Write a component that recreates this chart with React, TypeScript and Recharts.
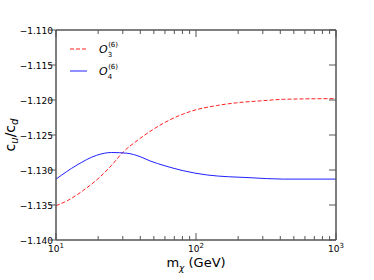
import { ComposedChart, Line, XAxis, YAxis } from 'recharts';

// O_3^(6): red dashed
const o3Mass = [10, 12, 15.7, 20.6, 25, 30.3, 38, 46.9, 60, 81, 100, 140, 195, 300, 421, 1000];
const o3Ratio = [-1.1351, -1.1344, -1.1329, -1.131, -1.1293, -1.1274, -1.1258, -1.1245, -1.1232, -1.122, -1.1214, -1.1208, -1.1204, -1.1201, -1.1199, -1.1198];

// O_4^(6): blue solid
const o4Mass = [10, 14.1, 19.5, 25, 32, 40, 46.9, 60, 81, 119, 243, 421, 1000];
const o4Ratio = [-1.1313, -1.1293, -1.1279, -1.1275, -1.1276, -1.1281, -1.1287, -1.1294, -1.1301, -1.1307, -1.1311, -1.1313, -1.1313];

const majorTicks = [10, 100, 1000];
const xTicks = [10, 20, 30, 40, 50, 60, 70, 80, 90, 100, 200, 300, 400, 500, 600, 700, 800, 900, 1000];
const yTicks = [-1.14, -1.135, -1.13, -1.125, -1.12, -1.115, -1.11];

const AXIS = '#555';
const RED = '#ff2020';
const BLUE = '#2020ff';
const FONT = 'DejaVu Sans, sans-serif';

const o3Data = o3Mass.map((m, i) => ({ m, y: o3Ratio[i] }));
const o4Data = o4Mass.map((m, i) => ({ m, y: o4Ratio[i] }));

function BottomTick(props: any) {
  const { x, y, payload } = props;
  const major = majorTicks.includes(payload.value);
  const exp = Math.round(Math.log10(payload.value));
  return (
    <g>
      <line x1={x} x2={x} y1={y} y2={y - (major ? 7 : 4)} stroke={AXIS} strokeWidth={1} />
      {major && (
        <text x={x} y={y + 12} textAnchor="middle" fontSize={9} fontFamily={FONT} fill="#000">
          10
          <tspan dy={-4} fontSize={7}>{exp}</tspan>
        </text>
      )}
    </g>
  );
}

function TopTick(props: any) {
  const { x, y, payload } = props;
  const major = majorTicks.includes(payload.value);
  return <line x1={x} x2={x} y1={y} y2={y + (major ? 7 : 4)} stroke={AXIS} strokeWidth={1} />;
}

function LeftTick(props: any) {
  const { x, y, payload } = props;
  const label = payload.value.toFixed(3).replace('-', '\u2212');
  return (
    <g>
      <line x1={x - 7} x2={x} y1={y} y2={y} stroke={AXIS} strokeWidth={1} />
      <text x={x - 3} y={y + 3.5} textAnchor="end" fontSize={9} fontFamily={FONT} fill="#000">
        {label}
      </text>
    </g>
  );
}

function RightTick(props: any) {
  const { x, y } = props;
  return <line x1={x - 7} x2={x} y1={y} y2={y} stroke={AXIS} strokeWidth={1} />;
}

function OpLabel({ x, y, sub }: { x: number; y: number; sub: string }) {
  return (
    <text x={x} y={y} fontSize={11} fontFamily={FONT} fill="#000">
      <tspan fontStyle="italic">O</tspan>
      <tspan dy={4} fontSize={7}>{sub}</tspan>
      <tspan dx={-4} dy={-10} fontSize={7}>(6)</tspan>
    </text>
  );
}

export default function App() {
  return (
    <div style={{ position: 'absolute', left: 0, top: 0, width: 374, height: 280, background: '#fff' }}>
      <ComposedChart width={374} height={280} margin={{ top: 0, right: 0, bottom: 0, left: 0 }}>
        <XAxis
          xAxisId="bottom"
          dataKey="m"
          type="number"
          scale="log"
          domain={[10, 1000]}
          allowDataOverflow
          ticks={xTicks}
          interval={0}
          height={40}
          tickSize={0}
          tickMargin={0}
          tickLine={false}
          axisLine={{ stroke: AXIS, strokeWidth: 1.5 }}
          tick={<BottomTick />}
        />
        <XAxis
          xAxisId="top"
          orientation="top"
          dataKey="m"
          type="number"
          scale="log"
          domain={[10, 1000]}
          allowDataOverflow
          ticks={xTicks}
          interval={0}
          height={30}
          tickSize={0}
          tickMargin={0}
          tickLine={false}
          axisLine={{ stroke: AXIS, strokeWidth: 1.5 }}
          tick={<TopTick />}
        />
        <YAxis
          yAxisId="left"
          type="number"
          domain={[-1.14, -1.11]}
          allowDataOverflow
          ticks={yTicks}
          interval={0}
          width={56}
          tickSize={0}
          tickMargin={0}
          tickLine={false}
          axisLine={{ stroke: AXIS, strokeWidth: 1.5 }}
          tick={<LeftTick />}
        />
        <YAxis
          yAxisId="right"
          orientation="right"
          type="number"
          domain={[-1.14, -1.11]}
          allowDataOverflow
          ticks={yTicks}
          interval={0}
          width={38}
          tickSize={0}
          tickMargin={0}
          tickLine={false}
          axisLine={{ stroke: AXIS, strokeWidth: 1.5 }}
          tick={<RightTick />}
        />
        <Line
          xAxisId="bottom"
          yAxisId="left"
          data={o3Data}
          dataKey="y"
          type="monotone"
          stroke={RED}
          strokeWidth={1}
          strokeDasharray="4 2"
          dot={false}
          isAnimationActive={false}
        />
        <Line
          xAxisId="bottom"
          yAxisId="left"
          data={o4Data}
          dataKey="y"
          type="monotone"
          stroke={BLUE}
          strokeWidth={1}
          dot={false}
          isAnimationActive={false}
        />
      </ComposedChart>
      {/* legend */}
      <svg width={90} height={50} style={{ position: 'absolute', left: 66, top: 40 }}>
        <line x1={4} x2={21} y1={9} y2={9} stroke={RED} strokeWidth={1} strokeDasharray="4 2" />
        <OpLabel x={33} y={13} sub="3" />
        <line x1={4} x2={21} y1={31} y2={31} stroke={BLUE} strokeWidth={1} />
        <OpLabel x={33} y={35} sub="4" />
      </svg>
      {/* y-axis title */}
      <svg width={24} height={100} style={{ position: 'absolute', left: 0, top: 85 }}>
        <text
          transform="translate(15,50) rotate(-90)"
          textAnchor="middle"
          fontSize={14}
          fontFamily={FONT}
          fill="#000"
        >
          c<tspan dy={3} fontSize={10} fontStyle="italic">u</tspan>
          <tspan dy={-3}>/c</tspan>
          <tspan dy={3} fontSize={10} fontStyle="italic">d</tspan>
        </text>
      </svg>
      {/* x-axis title */}
      <div
        style={{
          position: 'absolute',
          left: 0,
          top: 255,
          width: 392,
          textAlign: 'center',
          fontFamily: FONT,
          fontSize: 13,
        }}
      >
        m<sub style={{ fontSize: 9, fontStyle: 'italic' }}>χ</sub> (GeV)
      </div>
    </div>
  );
}
